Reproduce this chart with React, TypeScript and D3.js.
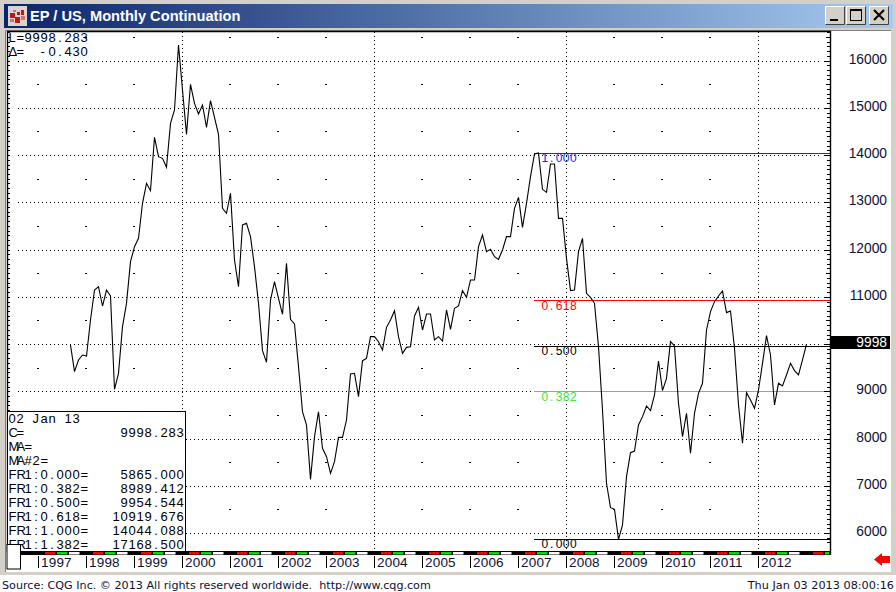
import React from 'react';
import * as d3 from 'd3';

// monthly closes, Sep 1997 .. Jan 2013
const closes = [
  9980, 9415, 9662, 9768, 9747, 10509, 11144, 11215, 10805, 11144, 11017, 9041, 9380, 10368, 10862, 11744,
  12061, 12238, 12979, 13402, 13247, 14376, 13966, 13931, 13741, 14672, 14954, 16330, 15378, 14439, 15498, 15095,
  14870, 15060, 14587, 15152, 14799, 14439, 12873, 12767, 13190, 11779, 11215, 12520, 12555, 12273, 11638, 10862,
  9860, 9613, 10932, 11320, 10968, 10629, 11708, 10523, 10424, 9521, 8568, 8286, 7136, 8039, 8568, 7792,
  7616, 7263, 7510, 8025, 8025, 8392, 9366, 9380, 8886, 9648, 9697, 10156, 10156, 10050, 9874, 10354,
  10509, 10706, 10156, 9803, 9930, 9944, 10594, 10777, 10297, 10636, 10636, 10086, 10156, 10064, 10721, 10311,
  10756, 10805, 11130, 10989, 11356, 11356, 12061, 12308, 11955, 12005, 11849, 11793, 11991, 12273, 12273, 12873,
  13105, 12470, 12978, 13543, 14023, 14044, 13275, 13211, 13811, 13811, 12661, 12661, 11814, 11130, 11144, 11955,
  12237, 11073, 10989, 10862, 9945, 8604, 7052, 6537, 6501, 5865, 6170, 7193, 7701, 7736, 8287, 8463,
  8689, 8590, 8922, 9641, 9013, 9274, 10051, 9959, 8745, 8040, 8534, 7687, 8534, 8957, 9169, 10298,
  10686, 10897, 11017, 11123, 10665, 10700, 9910, 8710, 7899, 8971, 8816, 8639, 9028, 9592, 10178, 9768,
  8710, 9169, 9112, 9345, 9592, 9437, 9345, 9663, 9998,
];
const firstMonth = 8; // months after Jan 1997

const years = d3.range(1997, 2013);
const priceTicks = d3.range(6000, 16001, 1000);
const lastPrice = 9998.283;

const fibRatios = ['0.000', '0.382', '0.500', '0.618', '1.000'];
const fibValues = [5865.0, 8989.412, 9954.544, 10919.676, 14044.088];
const fibColors = ['#000000', '#40e040', '#000000', '#ff0000', '#2222ee'];
const fibStart = 116; // index into closes

const panelLeft = ['02 Jan 13', 'C=', 'MA=', 'MA#2=', 'FR1:0.000=', 'FR1:0.382=', 'FR1:0.500=', 'FR1:0.618=', 'FR1:1.000=', 'FR1:1.382='];
const panelRight = ['', '9998.283', '', '', '5865.000', '8989.412', '9954.544', '10919.676', '14044.088', '17168.500'];

const W = 896;
const H = 592;
const plot = { left: 7, right: 830, top: 31, bottom: 552 };

const x = d3.scaleLinear().domain([0, 192]).range([38.5, 806.5]);
const y = d3.scaleLinear().domain([6000, 16000]).range([533, 60.6]);
const monthX = (i: number) => x(firstMonth + i);
const yearX = (yr: number) => x((yr - 1997) * 12);
const snapY = (v: number) => Math.round(y(v)) + 0.5;

const lineGen = d3.line<number>().x((_, i) => monthX(i)).y(d => y(d));

const uiFont = '"Liberation Sans", Arial, sans-serif';
const statusFont = '"DejaVu Sans", sans-serif';

// old CQG fixed cell text: every glyph sits in its own cell, narrow ones centred
const CellText = ({ s, px, py, cell = 8, fill = '#000', size = 13 }: any) => (
  <text
    x={Array.from(s as string).map((c, i) => px + i * cell + (c === '.' || c === ':' ? (cell - size * 0.278) / 2 - 0.5 : 0)).join(' ')}
    y={py}
    fontFamily={uiFont}
    fontSize={size}
    fill={fill}
    style={{ whiteSpace: 'pre' }}
  >
    {s}
  </text>
);

const Button = ({ bx, children }: any) => (
  <g transform={`translate(${bx},6)`}>
    <rect width={20} height={19} fill="#d4d0c8" />
    <path d="M0.5 18.5V0.5H19.5" fill="none" stroke="#ffffff" />
    <path d="M0.5 18.5H19.5V0.5" fill="none" stroke="#404040" />
    {children}
  </g>
);

export default function App() {
  const minor = d3.range(5800, 16801, 100).filter(t => y(t) > plot.top && y(t) < plot.bottom);
  const bandYears = d3.range(1997, 2014);

  return (
    <svg width={W} height={H} style={{ position: 'fixed', left: 0, top: 0, display: 'block' }}>
      <defs>
        <linearGradient id="titleGrad" x1="0" x2="1" y1="0" y2="0">
          <stop offset="0" stopColor="#0a246a" />
          <stop offset="1" stopColor="#a6caf0" />
        </linearGradient>
        <clipPath id="plotClip">
          <rect x={plot.left} y={plot.top} width={plot.right - plot.left} height={plot.bottom - plot.top} />
        </clipPath>
      </defs>

      {/* window */}
      <rect width={W} height={H} fill="#d4d0c8" />
      <rect x={4} y={4} width={889} height={24} fill="url(#titleGrad)" />
      <rect x={5} y={30} width={886} height={542} fill="#ffffff" />
      <path d="M5.5 572V30.5H891" fill="none" stroke="#808080" />
      <rect x={0} y={575} width={W} height={17} fill="#ffffff" />

      {/* title bar */}
      <rect x={8} y={6} width={19} height={20} fill="#d8d4d0" />
      <path d="M10 13h5v5h-5zM15 17h5v6h-5zM21 10h3v5h-3zM17 12h3v3h-3z" fill="#c01818" />
      <path d="M10 19h4v3h-4zM21 16h4v4h-4zM13 10h3v2h-3z" fill="#d87070" />
      <text x={30} y={21} fontFamily={uiFont} fontWeight="bold" fontSize={14.65} fill="#ffffff">
        EP / US, Monthly Continuation
      </text>
      <Button bx={825}>
        <rect x={5} y={13} width={8} height={2} fill="#000" />
      </Button>
      <Button bx={846}>
        <rect x={4.5} y={3.5} width={11} height={11} fill="none" stroke="#000" />
        <rect x={4} y={3} width={12} height={2} fill="#000" />
      </Button>
      <Button bx={869}>
        <path d="M5 4L15 14M15 4L5 14" stroke="#000" strokeWidth={2} />
      </Button>

      {/* grid */}
      <g clipPath="url(#plotClip)">
        {priceTicks.map(t => (
          <line key={t} x1={18} x2={820} y1={snapY(t)} y2={snapY(t)} stroke="#000" strokeDasharray="1 3" shapeRendering="crispEdges" />
        ))}
        {years.filter(yr => yr % 4 === 0).map(yr => (
          <line key={yr} x1={yearX(yr)} x2={yearX(yr)} y1={plot.top + 1} y2={plot.bottom} stroke="#000" strokeDasharray="1 3" shapeRendering="crispEdges" />
        ))}
        {years.filter(yr => yr % 4 !== 0).map(yr =>
          d3.range(5500, 16501, 1000).map(p => (
            <rect key={`${yr}-${p}`} x={yearX(yr) - 1.5} y={Math.round(y(p))} width={2} height={1} fill="#000" shapeRendering="crispEdges" />
          ))
        )}

        {/* fib levels */}
        {fibValues.map((v, i) => (
          <g key={fibRatios[i]}>
            <rect
              x={Math.floor(monthX(fibStart))}
              y={Math.floor(y(v) + 0.1)}
              width={plot.right - Math.floor(monthX(fibStart))}
              height={1}
              fill={fibColors[i]}
              shapeRendering="crispEdges"
            />
            <CellText s={fibRatios[i]} px={541.5} py={y(v) + 9} cell={7.1} size={12} fill={fibColors[i]} />
          </g>
        ))}

        <path d={lineGen(closes) ?? ''} fill="none" stroke="#000" strokeWidth={1.1} strokeLinejoin="miter" />
      </g>

      {/* frame */}
      <path d={`M${plot.left}.5 ${plot.bottom}V${plot.top}.5H${plot.right}.5V${plot.bottom + 3}`} fill="none" stroke="#000" strokeWidth={1.4} />

      {/* price axis ticks, both sides */}
      {minor.map(t => {
        const len = t % 1000 === 0 ? 6 : t % 500 === 0 ? 4 : 3;
        return (
          <g key={t} shapeRendering="crispEdges">
            <line x1={plot.right - len} x2={plot.right} y1={snapY(t)} y2={snapY(t)} stroke="#000" />
            <line x1={plot.left} x2={plot.left + 3} y1={snapY(t)} y2={snapY(t)} stroke="#000" />
          </g>
        );
      })}
      {/* the 10000 label sits under the last price tag, the reference only shows the tag */}
      {priceTicks.filter(t => t !== 10000).map(t => (
        <text key={t} x={887} y={y(t) + 3} textAnchor="end" fontFamily={uiFont} fontSize={13.8} fill="#101030">
          {t}
        </text>
      ))}

      {/* last price tag */}
      <rect x={830} y={336} width={60} height={13} fill="#000" />
      <text x={887} y={y(lastPrice) + 3} textAnchor="end" fontFamily={uiFont} fontSize={13.8} fill="#ffffff">
        {Math.round(lastPrice)}
      </text>

      {/* time axis band */}
      <rect x={plot.left} y={551} width={plot.right - plot.left} height={4} fill="#000" />
      {bandYears.map(yr => {
        const x0 = yearX(yr);
        return (
          <g key={yr}>
            <rect x={x0 + 6.5} y={552} width={10.5} height={2.5} fill="#ff0000" />
            <rect x={x0 + 18.5} y={552} width={yr === 2013 ? 4 : 10.5} height={2.5} fill="#00dd00" />
            {yr < 2013 && <rect x={x0 + 30.5} y={552} width={10.5} height={2.5} fill="#ffffff" />}
          </g>
        );
      })}
      {years.map(yr => (
        <g key={yr}>
          <line x1={yearX(yr)} x2={yearX(yr)} y1={556} y2={568} stroke="#000" />
          <text x={yearX(yr) + 2.5} y={567} fontFamily={uiFont} fontSize={13.5} letterSpacing={0.2} fill="#101030">
            {yr}
          </text>
        </g>
      ))}

      {/* readouts */}
      <CellText s="L=9998.283" px={8.5} py={42} />
      <CellText s="Δ=  -0.430" px={8.5} py={55.5} />

      <rect x={7.5} y={411.5} width={178} height={140} fill="#ffffff" stroke="#000" />
      {panelLeft.map((s, i) => (
        <g key={s}>
          <CellText s={s} px={8.5} py={423 + i * 14} />
          {panelRight[i] && (
            <CellText s={panelRight[i]} px={184 - panelRight[i].length * 8 + 0.5} py={423 + i * 14} />
          )}
        </g>
      ))}
      <rect x={7} y={544.5} width={13.5} height={24.5} fill="#ffffff" stroke="#000" />

      {/* red arrow */}
      <path d="M874 559.5L882 553V556H890V563H882V566Z" fill="#ff0000" />

      {/* status line */}
      <text x={2} y={589} fontFamily={statusFont} fontSize={11.15} fill="#101030" style={{ whiteSpace: 'pre' }}>
        {'Source: CQG Inc. © 2013 All rights reserved worldwide.  http://www.cqg.com'}
      </text>
      <text x={894} y={589} textAnchor="end" fontFamily={statusFont} fontSize={11.25} fill="#101030">
        Thu Jan 03 2013 08:00:16
      </text>
    </svg>
  );
}
